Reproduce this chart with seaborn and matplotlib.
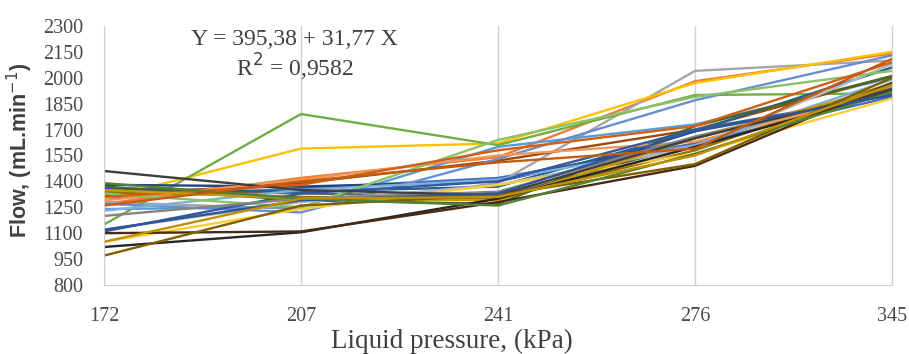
import pandas as pd
import matplotlib.pyplot as plt
import seaborn as sns
import numpy as np

# Pressao do liquido (categorias do eixo x)
pressures = ['172', '207', '241', '276', '345']

# Vazao de cada bico (mL/min) em cada pressao
flow_01 = [1300, 1360, 1420, 1620, 1890]
flow_02 = [1270, 1420, 1540, 1980, 2140]
flow_03 = [1280, 1240, 1390, 2040, 2100]
flow_04 = [1300, 1590, 1620, 1970, 2150]
flow_05 = [1240, 1250, 1600, 1730, 2000]
flow_06 = [1150, 1790, 1610, 1900, 1910]
flow_07 = [1380, 1370, 1400, 1650, 1940]
flow_08 = [1320, 1390, 1520, 1700, 2010]
flow_09 = [1350, 1330, 1310, 1620, 1960]
flow_10 = [1340, 1310, 1300, 1580, 1970]
flow_11 = [1360, 1340, 1370, 1690, 2060]
flow_12 = [1370, 1290, 1270, 1720, 2010]
flow_13 = [1270, 1220, 1530, 1870, 2130]
flow_14 = [1290, 1410, 1550, 1630, 1920]
flow_15 = [1120, 1280, 1380, 1600, 2080]
flow_16 = [1050, 1240, 1380, 1560, 1880]
flow_17 = [1230, 1350, 1410, 1610, 1990]
flow_18 = [1330, 1250, 1640, 1890, 2040]
flow_19 = [1110, 1330, 1400, 1700, 1900]
flow_20 = [1310, 1380, 1580, 1720, 2090]
flow_21 = [1200, 1300, 1340, 1660, 1930]
flow_22 = [1350, 1300, 1290, 1650, 1950]
flow_23 = [1460, 1350, 1320, 1650, 1930]
flow_24 = [1020, 1105, 1300, 1600, 1920]
flow_25 = [1100, 1110, 1280, 1490, 1970]
flow_26 = [970, 1260, 1320, 1500, 2000]
flow_27 = [1390, 1300, 1260, 1560, 1920]
flow_28 = [1120, 1290, 1330, 1690, 1900]
flow_29 = [1260, 1400, 1510, 1590, 2110]
flow_30 = [1050, 1300, 1310, 1550, 1960]

series = [flow_01, flow_02, flow_03, flow_04, flow_05, flow_06, flow_07, flow_08,
          flow_09, flow_10, flow_11, flow_12, flow_13, flow_14, flow_15, flow_16,
          flow_17, flow_18, flow_19, flow_20, flow_21, flow_22, flow_23, flow_24,
          flow_25, flow_26, flow_27, flow_28, flow_29, flow_30]

# Paleta padrao do Excel (cores de destaque e variantes)
colors = ['#4472C4', '#ED7D31', '#A5A5A5', '#FFC000', '#5B9BD5', '#70AD47',
          '#264478', '#9E480E', '#636363', '#997300', '#255E91', '#43682B',
          '#698ED0', '#F1975A', '#B7B7B7', '#FFCD33', '#7CAFDD', '#8CC168',
          '#335AA1', '#D26012', '#848484', '#CC9A00', '#3F3F3F', '#262626',
          '#4A2A12', '#7F6000', '#548235', '#2F5597', '#C55A11', '#BF9000']

rows = []
for i, vals in enumerate(series):
    for j, v in enumerate(vals):
        rows.append({'bico': i, 'pos': j, 'flow': v})
df = pd.DataFrame(rows)

sns.set_style('white')
fig = plt.figure(figsize=(9.09, 3.54), dpi=100)
ax = fig.add_axes([0.1144, 0.195, 0.867, 0.7316])

sns.lineplot(data=df, x='pos', y='flow', hue='bico', palette=colors,
             linewidth=1.7, legend=False, ax=ax)

ax.set_xlim(0, 4)
ax.set_ylim(800, 2300)
ax.set_yticks(np.arange(800, 2301, 150))
ax.set_xticks(range(len(pressures)))
ax.set_xticklabels(pressures)
ax.grid(axis='x', color='#d0d0d0', linewidth=1)
ax.set_axisbelow(True)
ax.tick_params(length=0, labelsize=14.5)
ax.tick_params(axis='y', pad=15)
ax.tick_params(axis='x', pad=16)
for lab in ax.get_xticklabels() + ax.get_yticklabels():
    lab.set_family('Liberation Serif')
    lab.set_color('#4a4a4a')
ax.spines['top'].set_visible(False)
for side in ['left', 'bottom', 'right']:
    ax.spines[side].set_color('#d0d0d0')

ax.set_xlabel('Liquid pressure, (kPa)', family='Liberation Serif', fontsize=19.5,
              color='#404040')
ax.xaxis.set_label_coords(0.4416, -0.17)
ax.set_ylabel('Flow, (mL.min$^{-1}$)', family='Liberation Sans', fontsize=15.5,
              fontweight='bold', color='#404040')
ax.yaxis.set_label_coords(-0.088, 0.52)

ax.text(0.242, 0.946, 'Y = 395,38 + 31,77 X', transform=ax.transAxes, ha='center',
        va='center', family='Liberation Serif', fontsize=17, color='#404040')
ax.text(0.242, 0.842, 'R$^2$ = 0,9582', transform=ax.transAxes, ha='center',
        va='center', family='Liberation Serif', fontsize=17, color='#404040')

plt.savefig('out.png', dpi=100)
